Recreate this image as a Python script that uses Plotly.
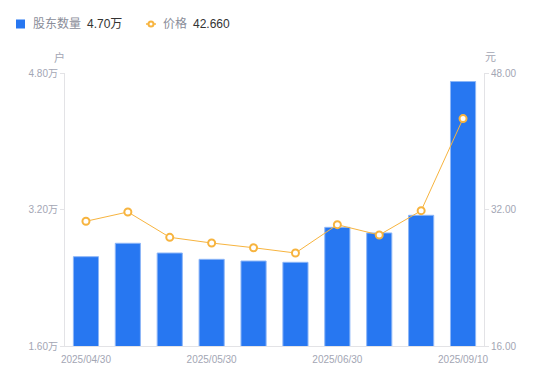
import plotly.graph_objects as go

dates = ["2025/04/30", "2025/05/10", "2025/05/20", "2025/05/30", "2025/06/10",
         "2025/06/20", "2025/06/30", "2025/07/31", "2025/08/31", "2025/09/10"]
holders = [2.647, 2.804, 2.69, 2.616, 2.596, 2.581, 2.991, 2.925, 3.132, 4.70]  # 万户
prices = [30.62, 31.71, 28.74, 28.07, 27.52, 26.90, 30.22, 29.01, 31.86, 42.66]
tick_dates = ["2025/04/30", "2025/05/30", "2025/06/30", "2025/09/10"]
left_ticks = [1.6, 3.2, 4.8]
left_labels = ["1.60万", "3.20万", "4.80万"]
right_ticks = [16, 32, 48]
right_labels = ["16.00", "32.00", "48.00"]

BLUE = "#2777F1"
ORANGE = "#F7B43F"
GRAY = "#A3A6B4"
AXIS = "#E3E3E6"
FONT = "Liberation Sans, Noto Sans CJK SC, sans-serif"

W, H = 550, 381
L, R, T, B = 65, 66, 73, 35
pw, ph = W - L - R, H - T - B

def px(x):
    return (x - L) / pw

def py(y):
    return (H - B - y) / ph

fig = go.Figure()
fig.add_trace(go.Bar(x=dates, y=holders, marker=dict(color=BLUE, line=dict(color="#8DB6F7", width=1)),
                     width=0.6, yaxis="y", showlegend=False))
fig.add_trace(go.Scatter(x=dates, y=prices, mode="lines+markers", yaxis="y2", showlegend=False,
                         line=dict(color=ORANGE, width=1),
                         marker=dict(symbol="circle", size=7, color="white",
                                     line=dict(color=ORANGE, width=2))))

fig.update_layout(
    width=W, height=H,
    margin=dict(l=L, r=R, t=T, b=B),
    paper_bgcolor="white", plot_bgcolor="white",
    font=dict(family=FONT, size=10, color=GRAY),
    bargap=0.4,
    xaxis=dict(type="category", range=[-0.5, len(dates) - 0.5], tickmode="array",
               tickvals=tick_dates, ticktext=tick_dates,
               showgrid=False, showline=True, linecolor=AXIS, linewidth=1,
               ticks="", ticklabelstandoff=4, tickfont=dict(size=10, color=GRAY), zeroline=False),
    yaxis=dict(range=[1.6, 4.8], tickmode="array", tickvals=left_ticks, ticktext=left_labels,
               showgrid=False, showline=True, linecolor=AXIS, linewidth=1,
               ticks="outside", ticklen=4, tickcolor=AXIS, zeroline=False,
               tickfont=dict(size=10, color=GRAY)),
    yaxis2=dict(range=[16, 48], overlaying="y", side="right", tickmode="array",
                tickvals=right_ticks, ticktext=right_labels,
                showgrid=False, showline=True, linecolor=AXIS, linewidth=1,
                ticks="outside", ticklen=4, tickcolor=AXIS, zeroline=False,
                tickfont=dict(size=10, color=GRAY)),
)

# axis unit titles
fig.add_annotation(text="户", x=px(59), y=py(57), xref="paper", yref="paper", showarrow=False,
                   font=dict(size=11, color=GRAY), xanchor="center", yanchor="middle")
fig.add_annotation(text="元", x=px(490), y=py(57), xref="paper", yref="paper", showarrow=False,
                   font=dict(size=11, color=GRAY), xanchor="center", yanchor="middle")

# legend (manual)
ly = 24
fig.add_shape(type="rect", xref="paper", yref="paper", x0=px(16), x1=px(25), y0=py(28.5), y1=py(19.5),
              fillcolor=BLUE, line=dict(width=0))
fig.add_annotation(text="股东数量", x=px(31), y=py(ly), xref="paper", yref="paper", showarrow=False,
                   xanchor="left", yanchor="middle", font=dict(size=12, color="#8A8D99"))
fig.add_annotation(text=f"{holders[-1]:.2f}万", x=px(85), y=py(ly), xref="paper", yref="paper", showarrow=False,
                   xanchor="left", yanchor="middle", font=dict(size=12, color="#333333"))
fig.add_shape(type="line", xref="paper", yref="paper", x0=px(146), x1=px(156), y0=py(ly), y1=py(ly),
              line=dict(color=ORANGE, width=1.5))
fig.add_shape(type="circle", xref="paper", yref="paper", x0=px(148.5), x1=px(153.5), y0=py(26.5), y1=py(21.5),
              fillcolor="white", line=dict(color=ORANGE, width=2))
fig.add_annotation(text="价格", x=px(161), y=py(ly), xref="paper", yref="paper", showarrow=False,
                   xanchor="left", yanchor="middle", font=dict(size=12, color="#8A8D99"))
fig.add_annotation(text=f"{prices[-1]:.3f}", x=px(191), y=py(ly), xref="paper", yref="paper", showarrow=False,
                   xanchor="left", yanchor="middle", font=dict(size=12, color="#333333"))

fig.write_html("out.html", config={"displayModeBar": False},
               post_script="document.body.style.margin='0';document.body.style.overflow='hidden';")
